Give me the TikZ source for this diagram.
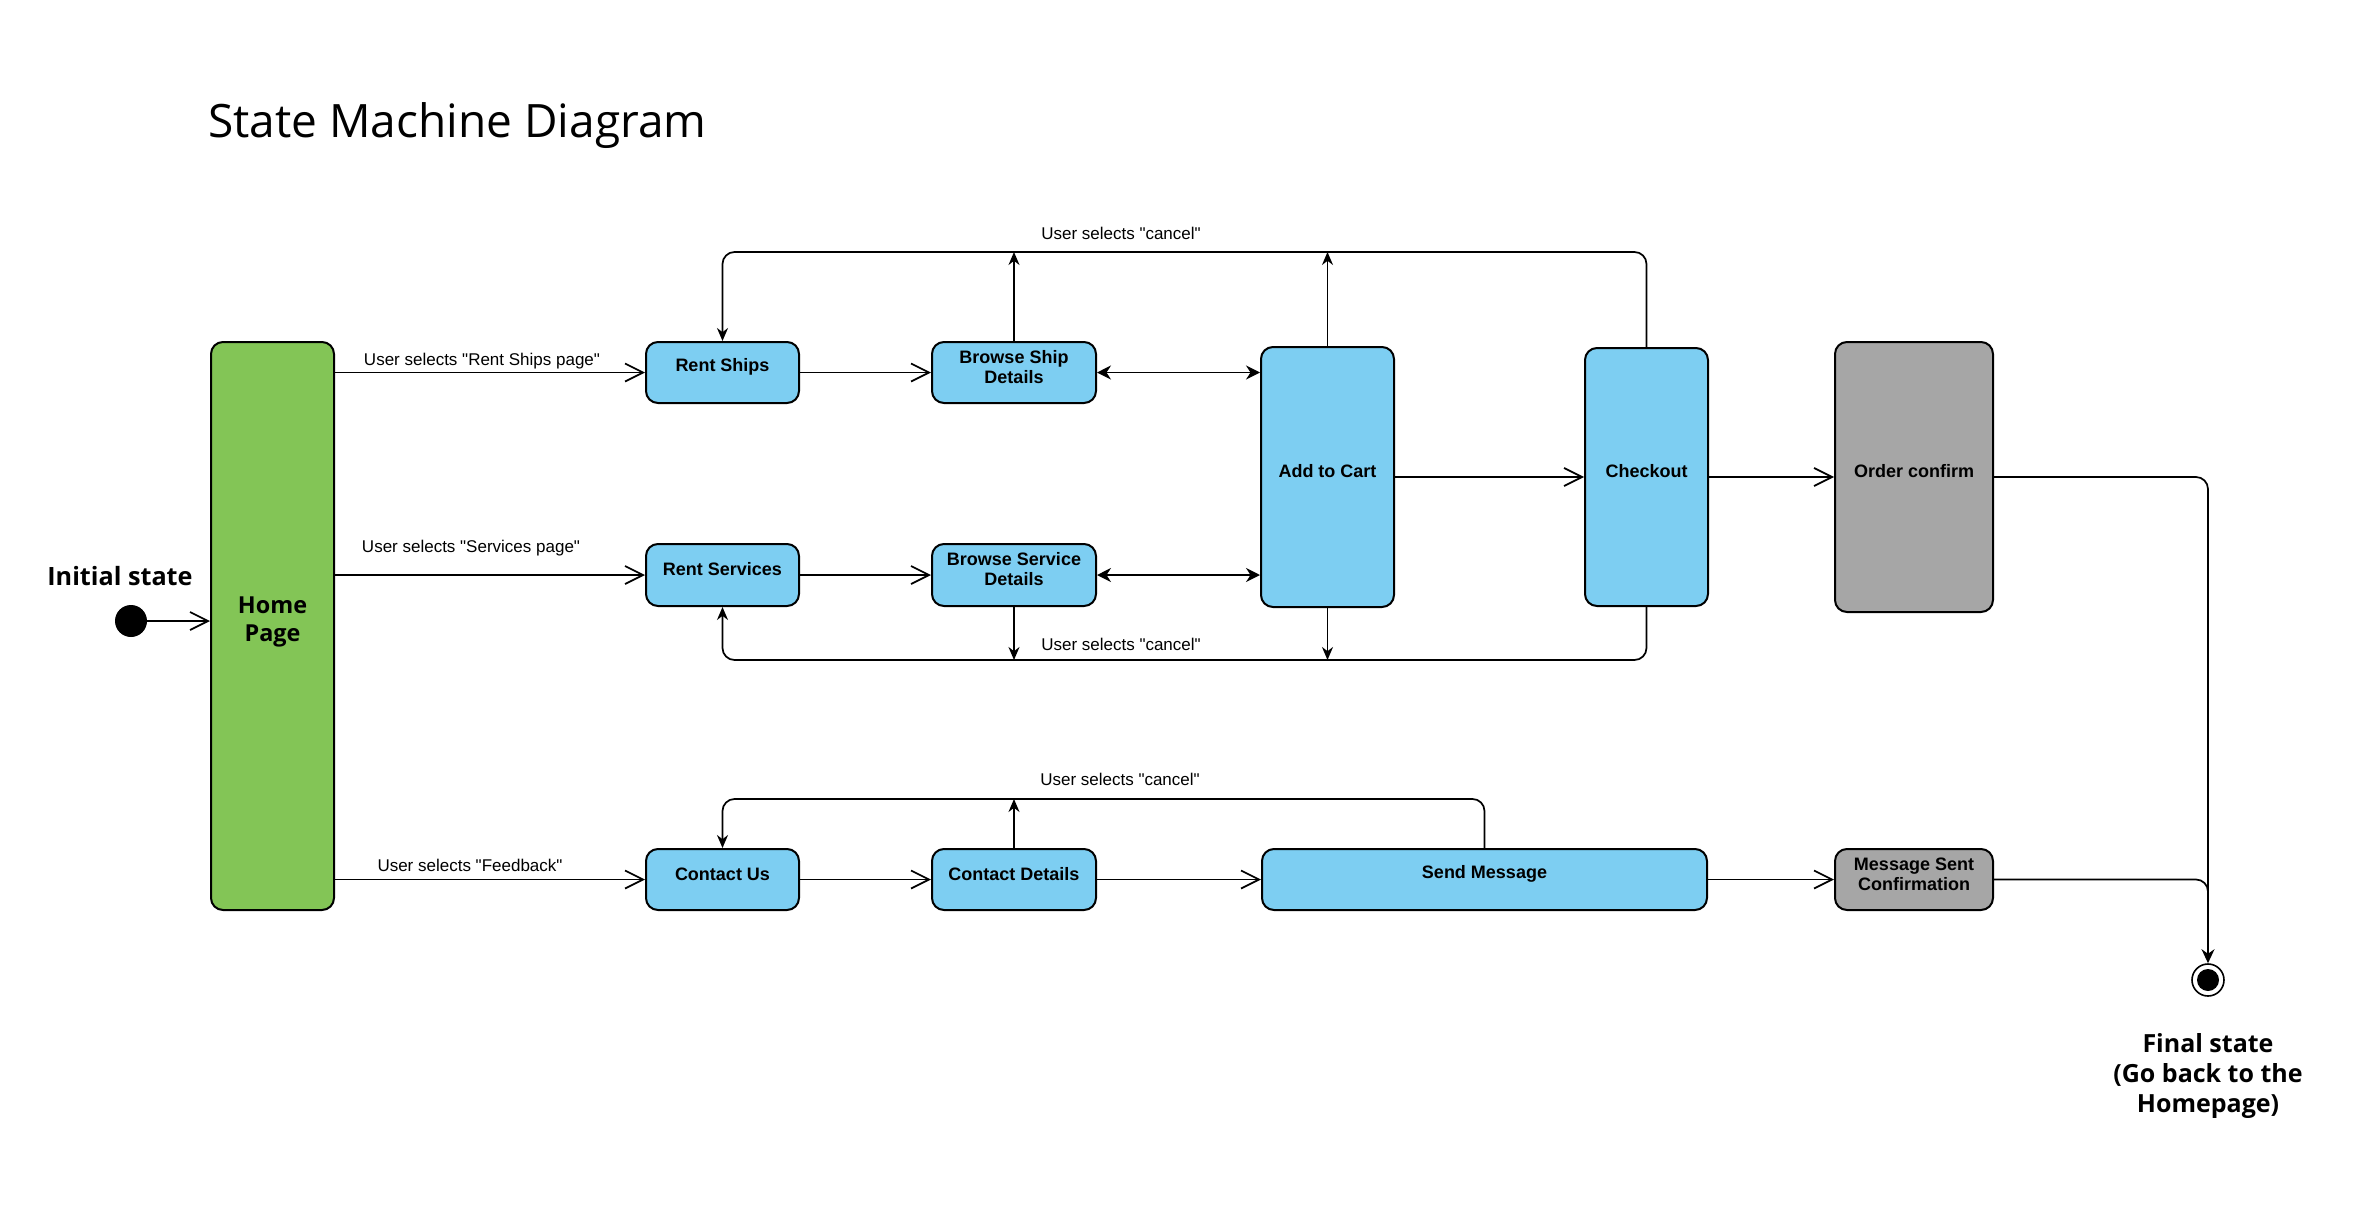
\documentclass[tikz,border=0pt]{standalone}
\usepackage{fontspec}
\setmainfont{Liberation Sans}
\newfontfamily\arial{Liberation Sans}
\newfontfamily\opensans{Open Sans}
\usetikzlibrary{arrows.meta}
\definecolor{sblue}{HTML}{7DCEF2}
\definecolor{sgreen}{HTML}{83C556}
\definecolor{sgray}{HTML}{A6A6A6}
\begin{document}
\begin{tikzpicture}[x=0.5pt,y=-0.5pt,
  box/.style={draw=black, line width=1pt, rounded corners=6pt, fill=sblue, inner sep=0pt},
  gbox/.style={box, fill=sgray},
  btxt/.style={font=\arial\bfseries\fontsize{9}{10}\selectfont, align=center, yshift=2.75pt},
  elab/.style={font=\arial\fontsize{8.5}{10}\selectfont},
  big/.style={font=\opensans\bfseries\fontsize{12.5}{15}\selectfont, align=center},
  ln/.style={line width=0.85pt},
  tr/.style={ln, -{Straight Barb[length=9pt,width=9pt]}},
  st/.style={ln, -{Stealth[length=6.5pt,width=5.5pt]}},
  dbl/.style={ln, {Stealth[length=7pt,width=7pt]}-{Stealth[length=7pt,width=7pt]}},
]
\useasboundingbox (0,0) rectangle (2374,1216);

% title
\node[anchor=base west, inner sep=0pt, font=\opensans\fontsize{23}{27}\selectfont] (title) at (208,137) {State Machine Diagram};

% initial
\node[circle, fill=black, minimum size=16pt, inner sep=0pt] (init) at (131,621) {};
\node[big, font=\opensans\bfseries\fontsize{12.6}{15}\selectfont] (initlab) at (120,576) {Initial state};

% home
\node[box, fill=sgreen, minimum width=61.5pt, minimum height=284pt,
  label={[font=\opensans\bfseries\fontsize{11.7}{14}\selectfont, align=center, yshift=2pt]center:{Home\\Page}}] (home) at (272.5,626) {};

% row 1
\node[box, minimum width=76.5pt, minimum height=30.5pt, label={[btxt]center:Rent Ships}] (rs) at (722.5,372.5) {};
\node[box, minimum width=82pt, minimum height=30.5pt, label={[btxt]center:{Browse Ship\\Details}}] (bsd) at (1014,372.5) {};
% row 2
\node[box, minimum width=76.5pt, minimum height=31pt, label={[btxt]center:Rent Services}] (rsv) at (722.5,575) {};
\node[box, minimum width=82pt, minimum height=31pt, label={[btxt]center:{Browse Service\\Details}}] (bsv) at (1014,575) {};
% big
\node[box, minimum width=66.5pt, minimum height=130pt, label={[btxt]center:Add to Cart}] (cart) at (1327.5,477) {};
\node[box, minimum width=61.5pt, minimum height=129pt, label={[btxt]center:Checkout}] (chk) at (1646.5,477) {};
\node[gbox, minimum width=79pt, minimum height=135pt, label={[btxt]center:Order confirm}] (oc) at (1914,477) {};
% row 3
\node[box, minimum width=76.5pt, minimum height=30.5pt, label={[btxt]center:Contact Us}] (cu) at (722.5,879.5) {};
\node[box, minimum width=82pt, minimum height=30.5pt, label={[btxt]center:Contact Details}] (cd) at (1014,879.5) {};
\node[box, minimum width=222.5pt, minimum height=30.5pt, label={[btxt]center:Send Message}] (sm) at (1484.5,879.5) {};
\node[gbox, minimum width=79pt, minimum height=30.5pt, label={[btxt]center:{Message Sent\\Confirmation}}] (msc) at (1914,879.5) {};

% final
\node[circle, draw=black, line width=0.8pt, fill=white, minimum size=16pt, inner sep=0pt] (fin) at (2208,980) {};
\node[circle, fill=black, minimum size=11pt, inner sep=0pt] (finin) at (fin) {};
\node[big] (finlab) at (2208,1076) {Final state\\(Go back to the\\Homepage)};

% helper coordinates
\coordinate (top) at (0,252);
\coordinate (bot) at (0,660);
\coordinate (cl) at (0,799);

% transitions
\draw[tr] (init) -- (init -| home.west);
\draw[tr] (home.east |- rs) -- (rs.west);
\draw[tr] (home.east |- rsv) -- (rsv.west);
\draw[tr] (home.east |- cu) -- (cu.west);
\node[elab] (l1) at (482,361) {User selects "Rent Ships page"};
\node[elab] (l2) at (471,548) {User selects "Services page"};
\node[elab] (l3) at (470,865) {User selects "Feedback"};

\draw[tr] (rs.east) -- (bsd.west);
\draw[tr] (rsv.east) -- (bsv.west);
\draw[dbl] (bsd.east) -- (bsd.east -| cart.west);
\draw[dbl] (bsv.east) -- (bsv.east -| cart.west);
\draw[tr] (cart.east) -- (chk.west);
\draw[tr] (chk.east) -- (oc.west);

% cancel loops
\draw[st, rounded corners=6pt] (chk.north) -- (chk.north |- top) -- (rs.north |- top) -- (rs.north);
\draw[st] (bsd.north) -- (bsd.north |- top);
\draw[st] (cart.north) -- (cart.north |- top);
\node[elab] (l4) at (1121,233) {User selects "cancel"};

\draw[st, rounded corners=6pt] (chk.south) -- (chk.south |- bot) -- (rsv.south |- bot) -- (rsv.south);
\draw[st] (bsv.south) -- (bsv.south |- bot);
\draw[st] (cart.south) -- (cart.south |- bot);
\node[elab] (l5) at (1121,644) {User selects "cancel"};

\draw[st, rounded corners=6pt] (sm.north) -- (sm.north |- cl) -- (cu.north |- cl) -- (cu.north);
\draw[st] (cd.north) -- (cd.north |- cl);
\node[elab] (l6) at (1120,779) {User selects "cancel"};

\draw[tr] (cu.east) -- (cd.west);
\draw[tr] (cd.east) -- (sm.west);
\draw[tr] (sm.east) -- (msc.west);

% to final
\draw[ln, rounded corners=6pt, -{Stealth[length=7pt,width=6.5pt]}] (oc.east) -- (oc.east -| fin) -- (fin.north);
\draw[ln, rounded corners=6pt] (msc.east) -- (msc.east -| fin) -- ([yshift=-15pt]msc.east -| fin);
\end{tikzpicture}
\end{document}
